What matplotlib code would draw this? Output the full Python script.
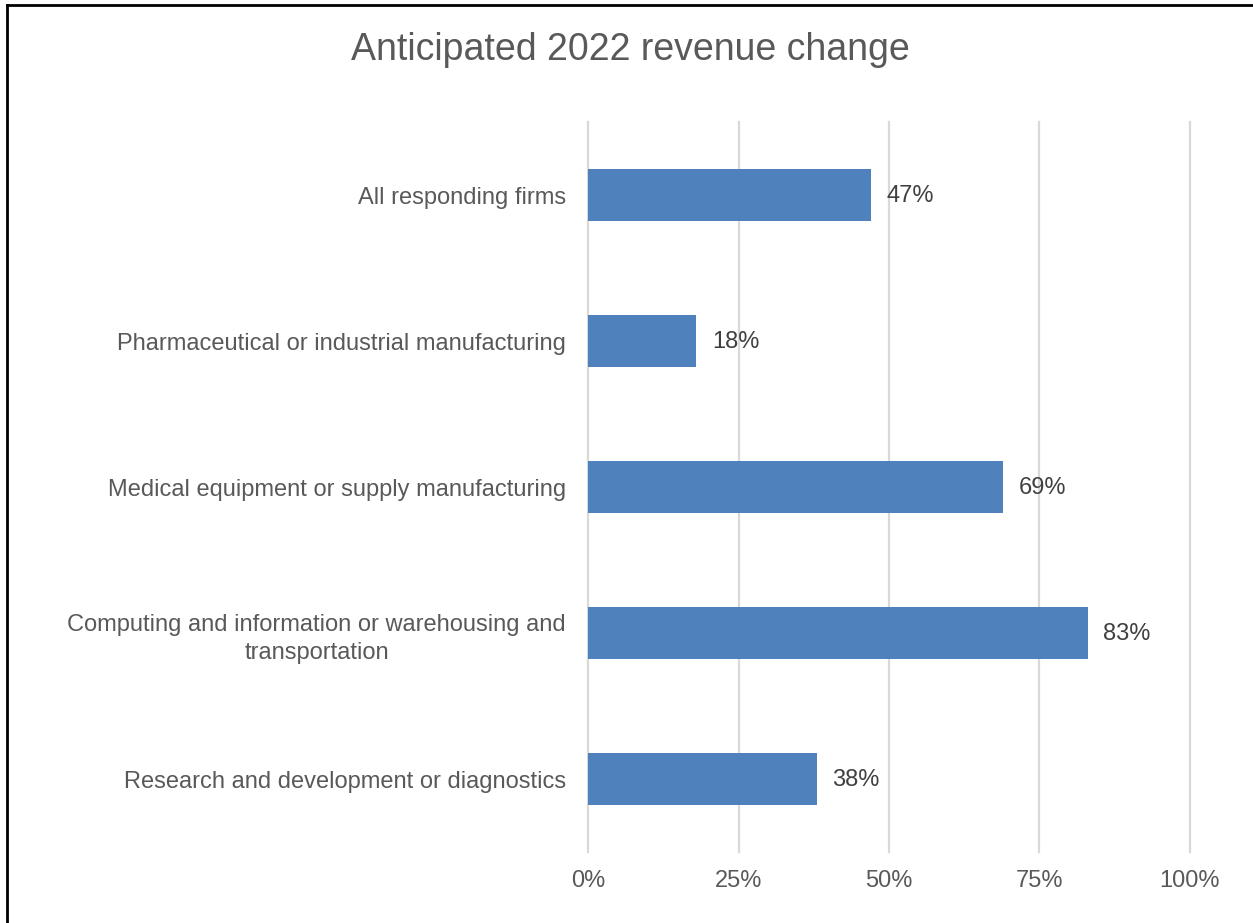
import matplotlib.pyplot as plt
from matplotlib.lines import Line2D

plt.rcParams['font.family'] = ['Liberation Sans', 'DejaVu Sans']

categories = [
    "All responding firms",
    "Pharmaceutical or industrial manufacturing",
    "Medical equipment or supply manufacturing",
    "Computing and information or warehousing and\ntransportation",
    "Research and development or diagnostics",
]
values = [47, 18, 69, 83, 38]
x_ticks = [0, 25, 50, 75, 100]

fig = plt.figure(figsize=(12.53, 9.23), dpi=100)
ax = fig.add_axes([0.4693, 0.0769, 0.4804, 0.7909])

y_pos = list(range(len(categories)))
ax.barh(y_pos, values, height=0.356, color="#4f81bd", zorder=3)

for y, v in zip(y_pos, values):
    ax.text(v + 2.6, y + 0.01, f"{v}%", va="center", ha="left",
            fontsize=17, color="#404040")

ax.set_xlim(0, 100)
ax.set_ylim(len(categories) - 0.5, -0.5)
ax.set_xticks(x_ticks)
ax.set_xticklabels([f"{t}%" for t in x_ticks], fontsize=17, color="#595959")
ax.set_yticks(y_pos)
ax.set_yticklabels(categories, fontsize=17, color="#595959",
                   multialignment="center", linespacing=1.4)
ax.tick_params(axis="both", length=0)
ax.tick_params(axis="x", pad=13)
ax.tick_params(axis="y", pad=16)

ax.grid(axis="x", color="#d9d9d9", linewidth=1.6, zorder=0)
for gl in ax.get_xgridlines():
    gl.set_clip_on(False)
for s in ax.spines.values():
    s.set_visible(False)

fig.suptitle("Anticipated 2022 revenue change", x=0.503, y=0.965,
             fontsize=27, color="#595959")

# frame along top and left edges
fig.add_artist(Line2D([0.0053, 0.0053], [0, 0.9946], transform=fig.transFigure,
                      color="black", linewidth=2))
fig.add_artist(Line2D([0.0053, 1], [0.9946, 0.9946], transform=fig.transFigure,
                      color="black", linewidth=2))

fig.savefig("out.png", dpi=100, facecolor="white")
